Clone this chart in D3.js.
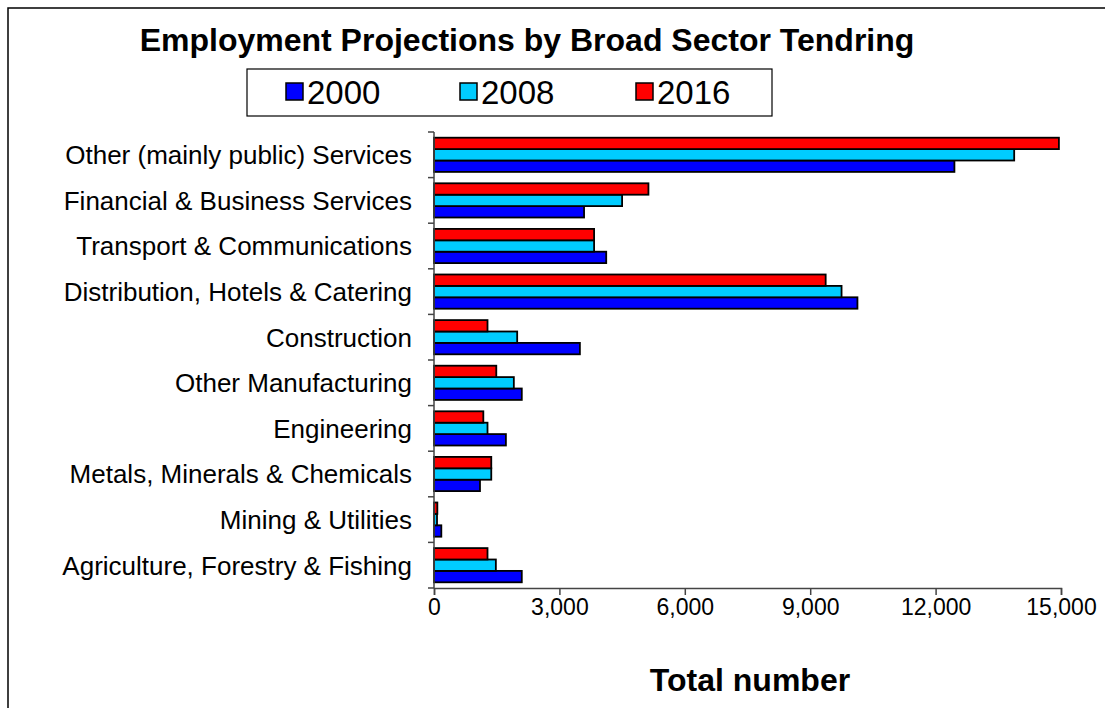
<!DOCTYPE html>
<html><head><meta charset="utf-8">
<script src="https://cdn.jsdelivr.net/npm/d3@7/dist/d3.min.js"></script>
<style>
html,body{margin:0;padding:0;background:#fff;}
svg{display:block;font-family:"Liberation Sans",Arial,sans-serif;}
</style></head>
<body>
<svg id="chart" width="1105" height="708"></svg>
<script>
const categories = [
  "Other (mainly public) Services",
  "Financial & Business Services",
  "Transport & Communications",
  "Distribution, Hotels & Catering",
  "Construction",
  "Other Manufacturing",
  "Engineering",
  "Metals, Minerals & Chemicals",
  "Mining & Utilities",
  "Agriculture, Forestry & Fishing"
];
const seriesNames = ["2000", "2008", "2016"];
const values2000 = [12450, 3590, 4120, 10130, 3490, 2100, 1720, 1100, 175, 2100];
const values2008 = [13880, 4500, 3830, 9750, 1990, 1910, 1280, 1370, 72, 1480];
const values2016 = [14950, 5130, 3830, 9370, 1280, 1490, 1180, 1370, 80, 1280];
const xTicks = [0, 3000, 6000, 9000, 12000, 15000];
const colors = {"2000": "#0000FF", "2008": "#00CCFF", "2016": "#FF0000"};

(function () {
const seriesValues = {"2000": values2000, "2008": values2008, "2016": values2016};
const svg = d3.select("#chart");

// outer border
svg.append("rect").attr("x", 8).attr("y", 8).attr("width", 1200).attr("height", 800)
  .attr("fill", "none").attr("stroke", "#000").attr("stroke-width", 1.5);

const pLeft = 434, pRight = 1061, pTop = 132, pBottom = 588;
const x = d3.scaleLinear().domain([0, 15000]).range([pLeft, pRight]);
const y = d3.scaleBand().domain(categories).range([pTop, pBottom]).paddingInner(0.25).paddingOuter(0.125);
const inner = d3.scaleBand().domain(["2016", "2008", "2000"]).range([0, y.bandwidth()]);

// bars
const groups = svg.append("g").selectAll("g").data(categories).join("g")
  .attr("transform", d => `translate(0,${y(d)})`);
groups.selectAll("rect").data((c, i) => seriesNames.map(s => ({s, v: seriesValues[s][i]})))
  .join("rect")
  .attr("x", x(0))
  .attr("y", d => inner(d.s))
  .attr("width", d => x(d.v) - x(0))
  .attr("height", inner.bandwidth())
  .attr("fill", d => colors[d.s])
  .attr("stroke", "#000").attr("stroke-width", 1.8);

// y axis: line with ticks at category boundaries
const yAxisG = svg.append("g");
yAxisG.append("line").attr("x1", pLeft).attr("x2", pLeft).attr("y1", pTop).attr("y2", pBottom)
  .attr("stroke", "#444").attr("stroke-width", 1.5);
const boundaries = d3.range(categories.length + 1).map(i => pTop + i * (pBottom - pTop) / categories.length);
yAxisG.selectAll("line.tk").data(boundaries).join("line").attr("class", "tk")
  .attr("x1", pLeft - 6).attr("x2", pLeft).attr("y1", d => d).attr("y2", d => d)
  .attr("stroke", "#444").attr("stroke-width", 1.5);
yAxisG.selectAll("text").data(categories).join("text")
  .attr("x", 412).attr("y", d => y(d) + y.bandwidth() / 2)
  .attr("dy", "0.36em").attr("text-anchor", "end")
  .attr("font-size", 26).attr("fill", "#000").text(d => d);

// x axis
const xAxis = d3.axisBottom(x).tickValues(xTicks).tickFormat(d3.format(",")).tickSize(7).tickPadding(4);
const xg = svg.append("g").attr("transform", `translate(0,${pBottom})`).call(xAxis);
xg.select(".domain").attr("stroke", "#444").attr("stroke-width", 1.5);
xg.selectAll(".tick line").attr("stroke", "#444").attr("stroke-width", 1.5);
xg.selectAll(".tick text").attr("font-size", 23).attr("fill", "#000")
  .attr("font-family", "Liberation Sans, Arial, sans-serif");

// axis title
svg.append("text").attr("x", 750).attr("y", 691).attr("text-anchor", "middle")
  .attr("font-size", 32).attr("font-weight", "bold").text("Total number");

// title
svg.append("text").attr("x", 527).attr("y", 51).attr("text-anchor", "middle")
  .attr("font-size", 32).attr("font-weight", "bold")
  .text("Employment Projections by Broad Sector Tendring");

// legend
const lg = svg.append("g");
lg.append("rect").attr("x", 247).attr("y", 69).attr("width", 525).attr("height", 47)
  .attr("fill", "#fff").attr("stroke", "#000").attr("stroke-width", 1.2);
const legendX = {"2000": 286, "2008": 460, "2016": 636};
const items = lg.selectAll("g").data(seriesNames).join("g")
  .attr("transform", d => `translate(${legendX[d]},0)`);
items.append("rect").attr("x", 0).attr("y", 83).attr("width", 17).attr("height", 17)
  .attr("fill", d => colors[d]).attr("stroke", "#000").attr("stroke-width", 1.5);
items.append("text").attr("x", 21).attr("y", 92).attr("dy", "0.36em")
  .attr("font-size", 33).text(d => d);
})();
</script>
</body></html>
